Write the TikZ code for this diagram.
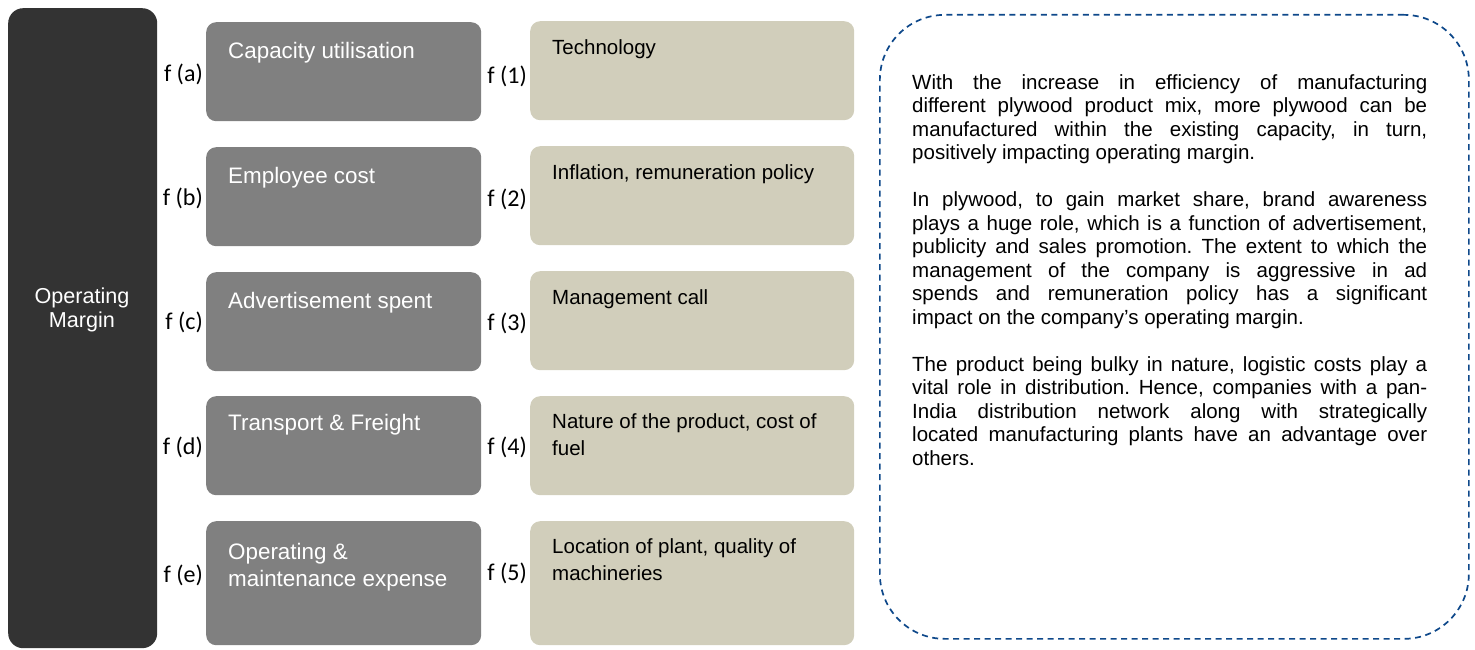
\documentclass[tikz,border=0pt]{standalone}
\usepackage{fontspec}
\setmainfont{Liberation Sans}
\newfontfamily\labelfont{Carlito}
\usetikzlibrary{positioning}
\definecolor{margindark}{RGB}{51,51,51}
\definecolor{factorgray}{RGB}{128,128,128}
\definecolor{driverbeige}{RGB}{209,206,187}
\definecolor{noteblue}{RGB}{14,72,138}

\begin{document}
\begin{tikzpicture}[x=1pt,y=-1pt,
    factor/.style={fill=factorgray, rounded corners=10, anchor=north west, minimum width=275, minimum height=99, inner sep=0},
    driver/.style={fill=driverbeige, rounded corners=10, anchor=north west, minimum width=324, minimum height=99, inner sep=0},
    factortext/.style={anchor=north west, inner sep=0, align=left, text=white, font=\fontsize{22.4}{27}\selectfont},
    drivertext/.style={anchor=north west, inner sep=0, align=left, font=\fontsize{20.5}{27}\selectfont},
    flabel/.style={anchor=east, inner sep=0, font=\labelfont\fontsize{24}{26}\selectfont}]
    \useasboundingbox (0,0) rectangle (1475,650);

    \node[fill=margindark, rounded corners=15, anchor=north west, minimum width=149, minimum height=640, inner sep=0] (margin) at (8,8) {};
    \node[text=white, align=center, inner sep=0, font=\fontsize{21.6}{24}\selectfont] (margintext) at (82,310) {Operating\\Margin};

    \node[factor] (capacity) at (206,22) {};
    \node[factor] (employee) at (206,147) {};
    \node[factor] (advert) at (206,272) {};
    \node[factor] (transport) at (206,396) {};
    \node[factor, minimum height=124] (maintenance) at (206,521) {};

    \node[factortext] (capacitytext) at ([shift={(22,20)}]capacity.north west) {Capacity utilisation};
    \node[factortext] (employeetext) at ([shift={(22,20)}]employee.north west) {Employee cost};
    \node[factortext] (adverttext) at ([shift={(22,20)}]advert.north west) {Advertisement spent};
    \node[factortext] (transporttext) at ([shift={(22,18)}]transport.north west) {Transport \& Freight};
    \node[factortext] (maintenancetext) at ([shift={(22,22)}]maintenance.north west) {Operating \&\\maintenance expense};

    \node[driver] (technology) at (530,21) {};
    \node[driver] (inflation) at (530,146) {};
    \node[driver] (management) at (530,271) {};
    \node[driver] (nature) at (530,396) {};
    \node[driver, minimum height=124] (location) at (530,521) {};

    \node[drivertext] (technologytext) at ([shift={(22,18)}]technology.north west) {Technology};
    \node[drivertext] (inflationtext) at ([shift={(22,18)}]inflation.north west) {Inflation, remuneration policy};
    \node[drivertext] (managementtext) at ([shift={(22,18)}]management.north west) {Management call};
    \node[drivertext] (naturetext) at ([shift={(22,17)}]nature.north west) {Nature of the product, cost of\\fuel};
    \node[drivertext] (locationtext) at ([shift={(22,17)}]location.north west) {Location of plant, quality of\\machineries};

    \node[flabel] (fa) at (203,74) {f (a)};
    \node[flabel] (fb) at (203,198) {f (b)};
    \node[flabel] (fc) at (203,322) {f (c)};
    \node[flabel] (fd) at (203,447) {f (d)};
    \node[flabel] (fe) at (203,575) {f (e)};

    \node[flabel] (f1) at (527,76) {f (1)};
    \node[flabel] (f2) at (527,199) {f (2)};
    \node[flabel] (f3) at (527,323) {f (3)};
    \node[flabel] (f4) at (527,447) {f (4)};
    \node[flabel] (f5) at (527,573) {f (5)};

    \node[draw=noteblue, line width=1.7, dash pattern=on 6pt off 4.5pt, rounded corners=65, anchor=north west, minimum width=589, minimum height=624, inner sep=0] (note) at (879,14) {};
    \node[anchor=north west, inner sep=0, text width=515, align=justify, font=\fontsize{20.5}{23.5}\selectfont] (notetext) at (912,74) {\tolerance=9999\hyphenpenalty=10000\frenchspacing
        With the increase in efficiency of manufacturing\linebreak different plywood product mix, more plywood can be\linebreak manufactured within the existing capacity, in turn,\linebreak positively impacting operating margin.\par\vskip23.5pt
        In plywood, to gain market share, brand awareness\linebreak plays a huge role, which is a function of advertisement,\linebreak publicity and sales promotion. The extent to which the\linebreak management of the company is aggressive in ad\linebreak spends and remuneration policy has a significant\linebreak impact on the company’s operating margin.\par\vskip23.5pt
        The product being bulky in nature, logistic costs play a\linebreak vital role in distribution. Hence, companies with a pan-\linebreak India distribution network along with strategically\linebreak located manufacturing plants have an advantage over\linebreak others.};
\end{tikzpicture}
\end{document}
